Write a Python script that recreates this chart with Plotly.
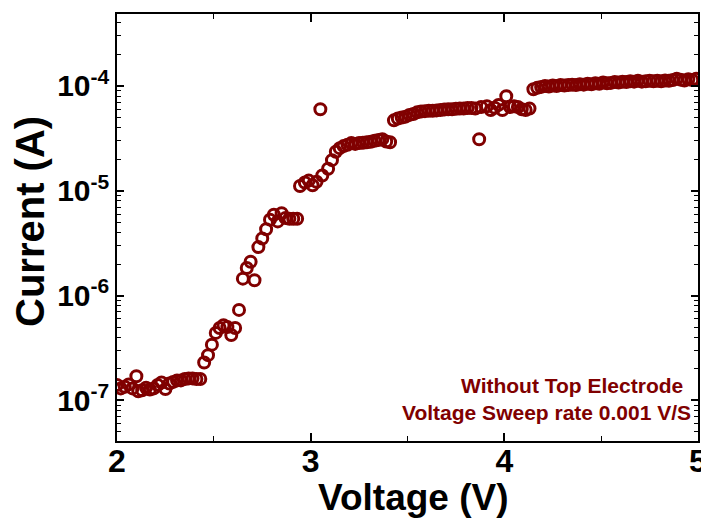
import plotly.graph_objects as go

# Voltage (V) and current (A)
voltage = [
    2.00, 2.02, 2.04, 2.06, 2.08, 2.10, 2.11, 2.13, 2.15, 2.17, 2.19, 2.21, 2.23, 2.25, 2.27,
    2.29, 2.31, 2.33, 2.35, 2.37, 2.39, 2.41, 2.43,
    2.45, 2.47, 2.49, 2.51, 2.53, 2.55, 2.57, 2.59, 2.61, 2.63, 2.65, 2.67, 2.69, 2.71,
    2.73, 2.75, 2.77, 2.79, 2.81, 2.83, 2.85, 2.87, 2.89, 2.91, 2.93,
    2.945, 2.97, 2.99, 3.01, 3.03, 3.05, 3.06, 3.09, 3.11, 3.13, 3.15, 3.17, 3.19, 3.21,
    3.23, 3.25, 3.27, 3.29, 3.31, 3.33, 3.35, 3.37, 3.39, 3.41,
    3.43, 3.45, 3.47, 3.49, 3.51, 3.53, 3.55, 3.57, 3.59, 3.61, 3.63, 3.65, 3.67, 3.69,
    3.71, 3.73, 3.75, 3.77, 3.79, 3.81, 3.83, 3.85, 3.87, 3.88, 3.91, 3.93, 3.95, 3.97,
    3.99, 4.01, 4.03, 4.05, 4.07, 4.09, 4.11, 4.13,
    4.15, 4.17, 4.19, 4.21, 4.23, 4.25, 4.27, 4.29, 4.31, 4.33, 4.35, 4.37, 4.39, 4.41,
    4.43, 4.45, 4.47, 4.49, 4.51, 4.53, 4.55, 4.57, 4.59, 4.61, 4.63, 4.65, 4.67, 4.69,
    4.71, 4.73, 4.75, 4.77, 4.79, 4.81, 4.83, 4.85, 4.87, 4.89, 4.91, 4.93, 4.95, 4.97, 4.99,
]
current = [
    1.40e-7, 1.30e-7, 1.35e-7, 1.42e-7, 1.30e-7, 1.70e-7, 1.22e-7, 1.25e-7, 1.32e-7, 1.27e-7,
    1.30e-7, 1.40e-7, 1.48e-7, 1.28e-7, 1.45e-7, 1.50e-7, 1.55e-7, 1.55e-7, 1.60e-7, 1.62e-7,
    1.62e-7, 1.60e-7, 1.60e-7,
    2.3e-7, 2.7e-7, 3.4e-7, 4.4e-7, 4.9e-7, 5.2e-7, 5.0e-7, 4.2e-7, 4.9e-7, 7.3e-7, 1.45e-6,
    1.83e-6, 2.1e-6, 1.40e-6,
    2.9e-6, 3.5e-6, 4.3e-6, 5.3e-6, 5.9e-6, 5.1e-6, 6.1e-6, 5.5e-6, 5.4e-6, 5.4e-6, 5.4e-6,
    1.11e-5, 1.20e-5, 1.25e-5, 1.13e-5, 1.22e-5, 6.0e-5, 1.40e-5, 1.62e-5, 1.96e-5, 2.36e-5,
    2.55e-5, 2.67e-5, 2.75e-5, 2.85e-5, 2.80e-5, 2.85e-5, 2.87e-5, 2.90e-5, 2.93e-5, 3.00e-5,
    3.05e-5, 3.11e-5, 2.95e-5, 2.90e-5,
    4.7e-5, 4.9e-5, 5.0e-5, 5.1e-5, 5.3e-5, 5.4e-5, 5.6e-5, 5.7e-5, 5.75e-5, 5.8e-5, 5.8e-5,
    5.85e-5, 5.9e-5, 5.95e-5, 6.0e-5, 6.0e-5, 6.05e-5, 6.1e-5, 6.1e-5, 6.15e-5, 6.15e-5,
    6.1e-5, 3.1e-5, 6.3e-5, 6.4e-5, 5.9e-5, 6.2e-5, 6.6e-5, 5.9e-5, 8.0e-5, 6.3e-5, 6.4e-5,
    6.3e-5, 6.0e-5, 5.9e-5, 6.1e-5,
    9.3e-5, 9.6e-5, 9.8e-5, 1.00e-4, 9.9e-5, 1.01e-4, 1.00e-4, 1.02e-4, 1.01e-4, 1.02e-4,
    1.03e-4, 1.02e-4, 1.04e-4, 1.03e-4, 1.05e-4, 1.04e-4, 1.06e-4, 1.05e-4, 1.08e-4, 1.06e-4,
    1.07e-4, 1.09e-4, 1.08e-4, 1.10e-4, 1.09e-4, 1.11e-4, 1.10e-4, 1.12e-4, 1.10e-4, 1.11e-4,
    1.12e-4, 1.11e-4, 1.12e-4, 1.11e-4, 1.13e-4, 1.12e-4, 1.14e-4, 1.17e-4, 1.15e-4, 1.13e-4,
    1.16e-4, 1.14e-4, 1.17e-4,
]

x_ticks = [2, 3, 4, 5]
x_minor = [2.5, 3.5, 4.5]
y_ticks = [1e-7, 1e-6, 1e-5, 1e-4]
y_ticktext = ["10<sup>-7</sup>", "10<sup>-6</sup>", "10<sup>-5</sup>", "10<sup>-4</sup>"]
y_minor = [m * 10.0 ** e for e in range(-8, -3) for m in range(2, 10)]

x_title = "Voltage (V)"
y_title = "Current (A)"
notes = ["Without Top Electrode", "Voltage Sweep rate 0.001 V/S"]

RED = "#800000"
FONT = "Liberation Sans, Arial, sans-serif"

fig = go.Figure()
fig.add_trace(go.Scatter(
    x=voltage, y=current, mode="markers",
    marker=dict(symbol="circle-open", size=11, color=RED, line=dict(width=3)),
    showlegend=False,
))

# page body has an 8px default margin; target plot box in window px: x 117..698, y 14..441
OFF = 8
W, H = 709 - OFF, 521 - OFF
L, T = 117 - OFF, 14 - OFF
R = 709 - 698
B = 521 - 441
pw, ph = W - L - R, H - T - B


def px_x(p):
    return (p - OFF - L) / pw


def px_y(p):
    return (H - B - (p - OFF)) / ph


fig.update_layout(
    width=W, height=H,
    margin=dict(l=L, r=R, t=T, b=B),
    paper_bgcolor="white", plot_bgcolor="white",
    font=dict(family=FONT, color="black"),
    xaxis=dict(
        range=[2, 5], tickmode="array", tickvals=x_ticks, automargin=False,
        ticks="inside", ticklen=8, tickwidth=1.5, tickcolor="black",
        showline=True, linecolor="black", linewidth=1.5, mirror="ticks",
        showgrid=False, zeroline=False, ticklabelstandoff=-9,
        tickfont=dict(size=32, family=FONT, weight="bold"),
        minor=dict(tickmode="array", tickvals=x_minor, ticks="inside", ticklen=5,
                   tickwidth=1.2, tickcolor="black", showgrid=False),
    ),
    yaxis=dict(
        type="log", range=[-7.388, -3.313], tickmode="array", automargin=False,
        tickvals=y_ticks, ticktext=y_ticktext,
        ticks="inside", ticklen=7, tickwidth=1.5, tickcolor="black",
        showline=True, linecolor="black", linewidth=1.5, mirror="ticks",
        showgrid=False, zeroline=False,
        tickfont=dict(size=30, family=FONT, weight="bold"),
        minor=dict(tickmode="array", tickvals=y_minor, ticks="inside", ticklen=4,
                   tickwidth=1.2, tickcolor="black", showgrid=False),
    ),
)

# axis titles
fig.add_annotation(
    text=x_title, xref="paper", yref="paper",
    x=px_x(413), y=px_y(498), xanchor="center", yanchor="middle",
    showarrow=False, font=dict(size=37, family=FONT, weight="bold", color="black"),
)
fig.add_annotation(
    text=y_title, xref="paper", yref="paper", textangle=-90,
    x=px_x(30), y=px_y(222), xanchor="center", yanchor="middle",
    showarrow=False, font=dict(size=40, family=FONT, weight="bold", color="black"),
)

fig.add_annotation(
    text=notes[0], xref="paper", yref="paper",
    x=px_x(572), y=px_y(385), xanchor="center", yanchor="middle",
    showarrow=False, font=dict(size=21, color=RED, family=FONT, weight="bold"),
)
fig.add_annotation(
    text=notes[1], xref="paper", yref="paper",
    x=px_x(546), y=px_y(412), xanchor="center", yanchor="middle",
    showarrow=False, font=dict(size=21, color=RED, family=FONT, weight="bold"),
)

fig.write_html("out.html")
